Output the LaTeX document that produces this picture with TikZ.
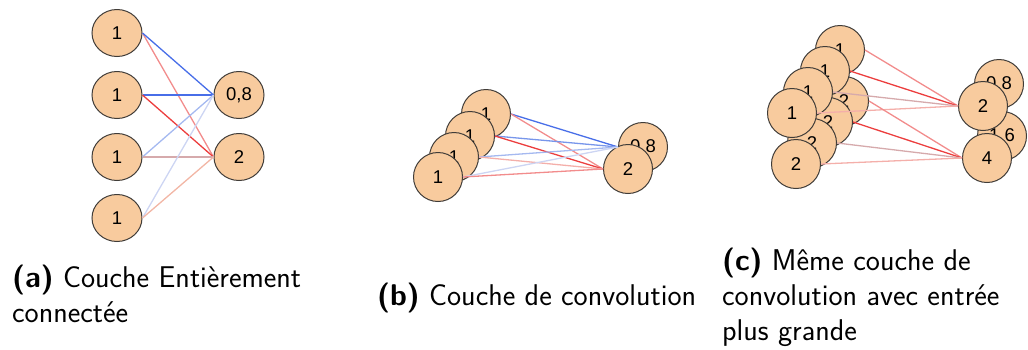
\documentclass[tikz,border=0pt]{standalone}
\usepackage{fontspec}
\newfontfamily\nodefont{Liberation Sans}
\usetikzlibrary{shapes.geometric}
\definecolor{peach}{RGB}{248,203,158}
\definecolor{rim}{RGB}{64,60,56}
\definecolor{bluedark}{RGB}{72,110,232}
\definecolor{bluemid}{RGB}{120,150,235}
\definecolor{bluelight}{RGB}{165,185,240}
\definecolor{bluepale}{RGB}{205,213,243}
\definecolor{reddark}{RGB}{236,62,62}
\definecolor{redlight}{RGB}{242,140,140}
\definecolor{redpale}{RGB}{244,175,170}
\definecolor{pinkgrey}{RGB}{214,170,172}
\definecolor{salmon}{RGB}{242,182,165}
\begin{document}
\begin{tikzpicture}[x=1pt,y=-1pt,
  neuron/.style={circle,draw=rim,line width=1pt,fill=peach,minimum size=49pt,inner sep=0pt,
    font=\nodefont\fontsize{18.5}{18.5}\selectfont},
  neuronA/.style={neuron,ellipse,minimum width=50pt,minimum height=47pt},
  conn/.style={line width=1.3pt},
  captxt/.style={anchor=base west,align=left,inner sep=0pt,
    font=\sffamily\fontsize{30}{35}\selectfont}]
\useasboundingbox (0,0) rectangle (1028,349);

% ---------- (a) ----------
\node[neuronA] (a1) at (117,33) {1};
\node[neuronA] (a2) at (117,95) {1};
\node[neuronA] (a3) at (117,157) {1};
\node[neuronA] (a4) at (117,218) {1};
\node[neuronA] (ao1) at (239,95) {0,8};
\node[neuronA] (ao2) at (239,157) {2};
\draw[conn,redlight] (a1.east) -- (ao2.west);
\draw[conn,bluedark] (a1.east) -- (ao1.west);
\draw[conn,bluedark] (a2.east) -- (ao1.west);
\draw[conn,reddark] (a2.east) -- (ao2.west);
\draw[conn,bluelight] (a3.east) -- (ao1.west);
\draw[conn,pinkgrey] (a3.east) -- (ao2.west);
\draw[conn,bluepale] (a4.east) -- (ao1.west);
\draw[conn,salmon] (a4.east) -- (ao2.west);

% ---------- (b) ----------
\node[neuron] (b1) at (486,114) {1};
\node[neuron] (b2) at (470,136) {1};
\node[neuron] (b3) at (454,157) {1};
\node[neuron] (b4) at (438,177) {1};
\node[neuron] (bo1) at (643,147) {0,8};
\node[neuron] (bo2) at (628,169) {2};
\draw[conn,bluedark] (b1.east) -- (bo1.west);
\draw[conn,redlight] (b1.east) -- (bo2.west);
\draw[conn,bluemid] (b2.east) -- (bo1.west);
\draw[conn,reddark] (b2.east) -- (bo2.west);
\draw[conn,bluelight] (b3.east) -- (bo1.west);
\draw[conn,redpale] (b3.east) -- (bo2.west);
\draw[conn,bluepale] (b4.east) -- (bo1.west);
\draw[conn,redlight] (b4.east) -- (bo2.west);

% ---------- (c) ----------
\node[neuron] (ce) at (844,101) {2};
\node[neuron] (cf) at (828,122) {2};
\node[neuron] (cg) at (812,143) {2};
\node[neuron] (ch) at (796,164) {2};
\node[neuron] (ca) at (840,50) {1};
\node[neuron] (cb) at (825,71) {1};
\node[neuron] (cc) at (808,92) {1};
\node[neuron] (cd) at (792,113) {1};
\node[neuron] (co1) at (999,84) {0,8};
\node[neuron] (co3) at (1002,136) {1,6};
\node[neuron] (co2) at (983,106) {2};
\node[neuron] (co4) at (987,158) {4};
\draw[conn,redlight] (ca.east) -- (co2.west);
\draw[conn,reddark] (cb.east) -- (co2.west);
\draw[conn,pinkgrey] (cc.east) -- (co2.west);
\draw[conn,redpale] (cd.east) -- (co2.west);
\draw[conn,redlight] (ce.east) -- (co4.west);
\draw[conn,reddark] (cf.east) -- (co4.west);
\draw[conn,pinkgrey] (cg.east) -- (co4.west);
\draw[conn,redpale] (ch.east) -- (co4.west);

% ---------- captions (base = last line) ----------
\node[captxt] (capa) at (12,322) {\textbf{(a)} Couche Entièrement\\connectée};
\node[captxt] (capb) at (377,305) {\textbf{(b)} Couche de convolution};
\node[captxt] (capc) at (722,340) {\textbf{(c)} Même couche de\\convolution avec entrée\\plus grande};
\end{tikzpicture}
\end{document}
